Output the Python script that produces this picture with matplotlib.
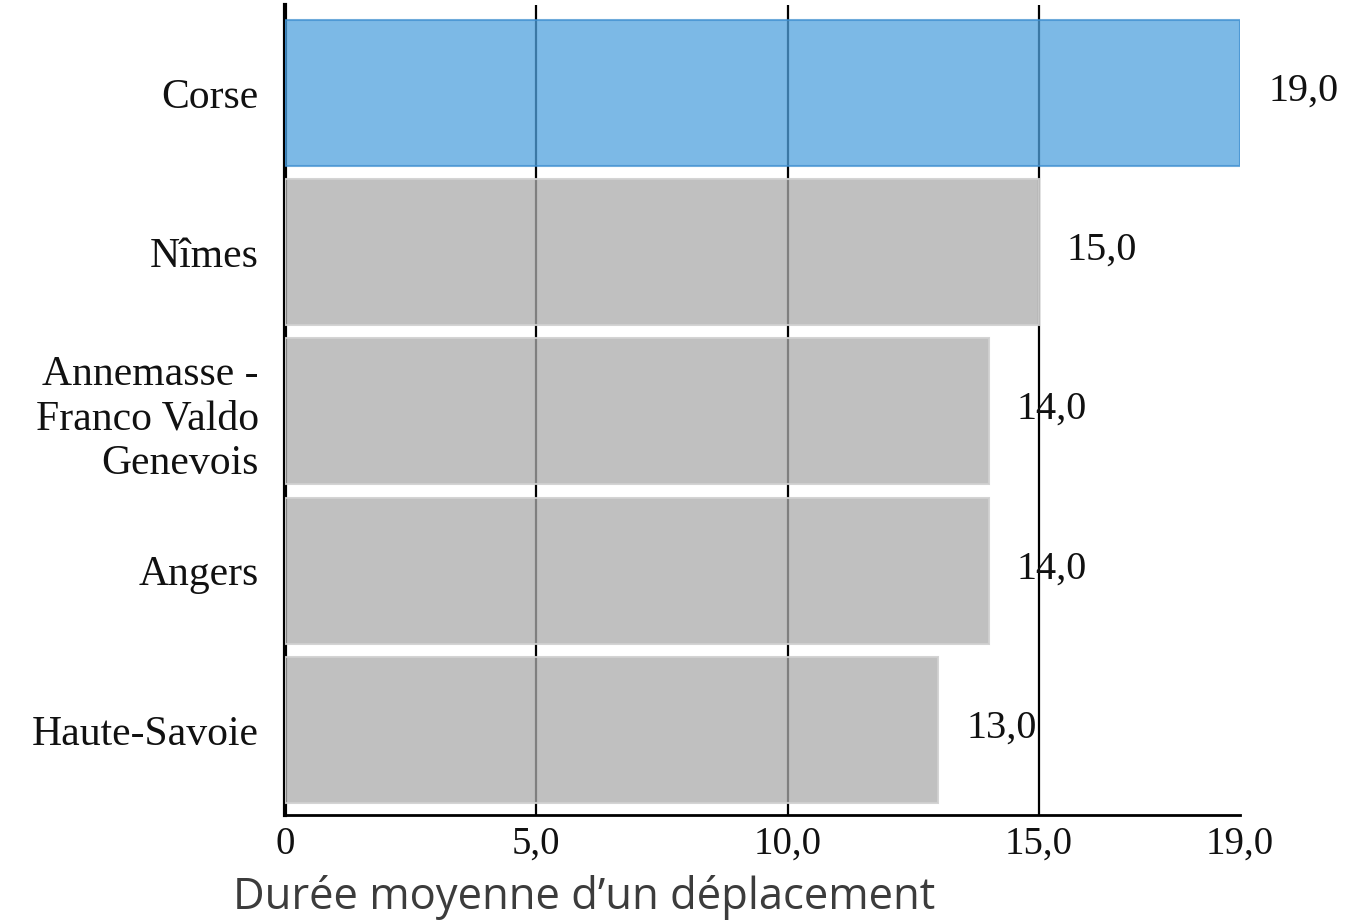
import matplotlib.pyplot as plt
from matplotlib.colors import to_rgba

# Data
regions = ["Corse", "Nîmes", "Annemasse -\nFranco Valdo\nGenevois", "Angers", "Haute-Savoie"]
durations = [19.0, 15.0, 14.0, 14.0, 13.0]
highlight = "Corse"
tick_values = [0, 5, 10, 15, 19]
tick_labels = ["0", "5,0", "10,0", "15,0", "19,0"]

serif = "Liberation Serif"

fig = plt.figure(figsize=(13.49, 9.22), dpi=100)
ax = fig.add_axes([0.2113, 0.1161, 0.7079, 0.8785])

# grid and axes lines sit under semi-transparent bars
for v in tick_values[1:-1]:
    ax.axvline(v, color="black", lw=1.6, zorder=1)

ypos = list(range(len(regions)))
fills = []
edges = []
for r in regions:
    if r == highlight:
        fills.append(to_rgba("#50a2de", 0.75))
        edges.append(to_rgba("#3f8fd0", 0.75))
    else:
        fills.append(to_rgba("#ababab", 0.75))
        edges.append(to_rgba("#d0d0d0", 0.9))

ax.barh(ypos, durations, height=0.917, color=fills, edgecolor=edges,
        linewidth=1.5, zorder=3)

for y, v in zip(ypos, durations):
    ax.annotate(f"{v:.1f}".replace(".", ","), xy=(v, y), xytext=(28, 2),
                textcoords="offset pixels",
                ha="left", va="center", fontsize=29, family=serif,
                color="#111111", zorder=5)

ax.set_xlim(0, 19)
ax.set_ylim(4.534, -0.553)
ax.set_yticks(ypos)
ax.set_yticklabels(regions, fontsize=30, family=serif, color="#111111",
                   linespacing=1.2)
ax.set_xticks(tick_values)
ax.set_xticklabels(tick_labels, fontsize=28, family=serif, color="#111111")
ax.tick_params(axis="y", length=0, pad=19)
ax.tick_params(axis="x", length=0, pad=8)

for s in ["top", "right"]:
    ax.spines[s].set_visible(False)
ax.spines["left"].set_linewidth(3)
ax.spines["left"].set_zorder(1)
ax.spines["bottom"].set_linewidth(2)
ax.spines["bottom"].set_zorder(4)

fig.text(584 / 1349, 1 - 897 / 922, "Durée moyenne d\u2019un déplacement",
         ha="center", va="center", fontsize=31.4, family="Open Sans",
         color="#3c3c3c")

fig.savefig("out.png", dpi=100, facecolor="white")
